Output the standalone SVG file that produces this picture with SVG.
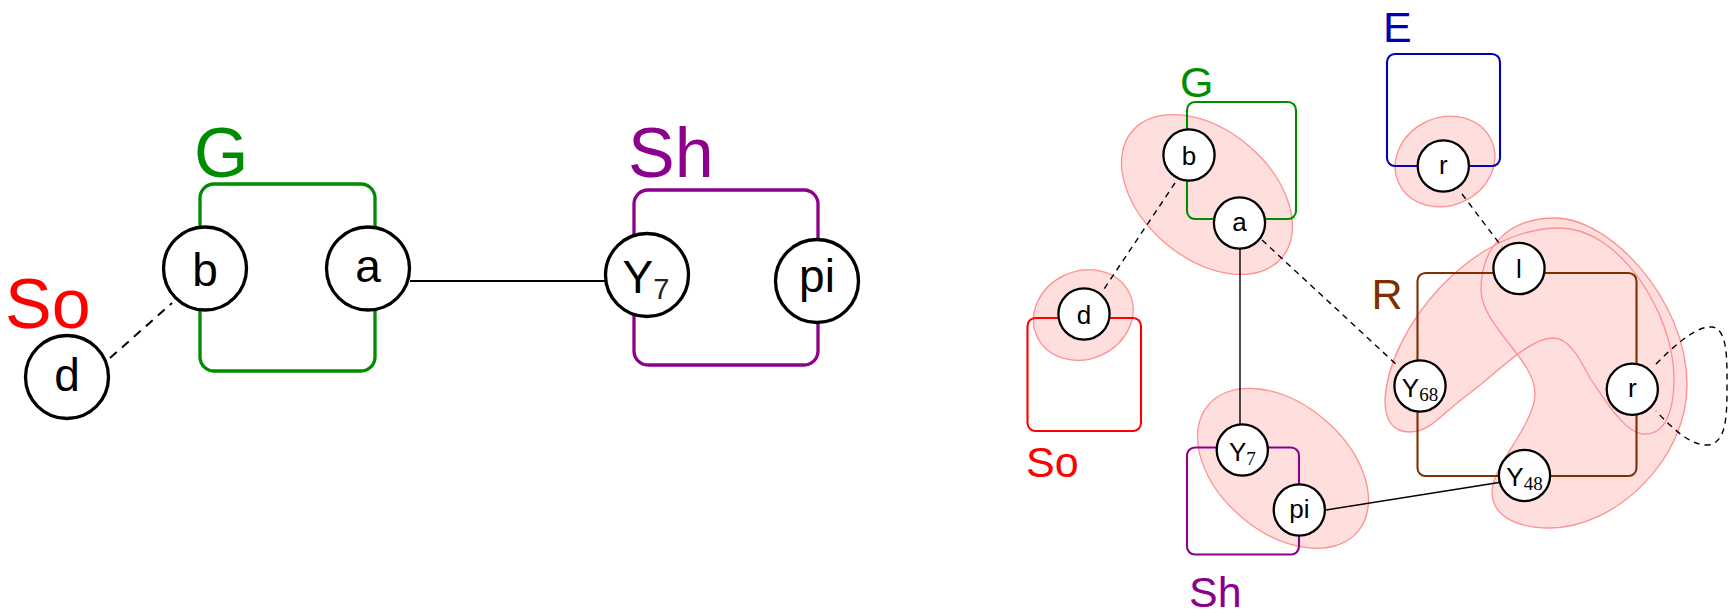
<svg xmlns="http://www.w3.org/2000/svg" width="1728" height="616" viewBox="0 0 1728 616">
  <style>
    text { font-family: "Liberation Sans", Arial, sans-serif; }
    .sub { font-family: "Liberation Serif", "Times New Roman", serif; }
    .node circle { fill: #ffffff; stroke: #000000; }
    .big circle { stroke-width: 3.3; }
    .small circle { stroke-width: 2.3; }
    .big text { font-size: 46px; text-anchor: middle; fill: #000; }
    .small text { font-size: 26px; text-anchor: middle; fill: #000; }
    .box { fill: none; }
    .box-big { stroke-width: 3.3; }
    .box-small { stroke-width: 2.1; }
    .title-big { font-size: 70px; }
    .title-small { font-size: 43px; }
    .blob-fill { fill: #ffdede; stroke: none; }
    .blob-line { fill: none; stroke: #ff9090; stroke-width: 1.3; }
    .edge { fill: none; stroke: #000; }
    .edge-big { stroke-width: 2; }
    .edge-small { stroke-width: 1.4; }
    .dash-big { stroke-dasharray: 9 7; }
    .dash-small { stroke-dasharray: 6 5; }
    .green { stroke: #008c00; fill: #008c00; }
    .purple { stroke: #8c008c; fill: #8c008c; }
    .red { stroke: #ff0000; fill: #ff0000; }
    .blue { stroke: #0000b4; fill: #0000b4; }
    .brown { stroke: #803000; fill: #803000; }
    rect.green, rect.purple, rect.red, rect.blue, rect.brown { fill: none; }
    text.green, text.purple, text.red, text.blue, text.brown { stroke: none; }
  </style>

  <defs>
    <!-- hyperedge hulls of the right-hand graph -->
    <ellipse id="hull-ba" cx="0" cy="0" rx="98" ry="64" transform="translate(1207,194.5) rotate(40.2)"/>
    <ellipse id="hull-y7pi" cx="0" cy="0" rx="98" ry="64" transform="translate(1283,468.3) rotate(40.2)"/>
    <ellipse id="hull-d" cx="0" cy="0" rx="51" ry="44" transform="translate(1083.3,315) rotate(-25)"/>
    <ellipse id="hull-e" cx="0" cy="0" rx="51" ry="44" transform="translate(1445,161.5) rotate(-25)"/>
    <path id="hull-y68-l-r" d="M1385,400 C1388,330 1470,228 1560,228 C1620,228 1674,315 1674,378 C1674,412 1665,434 1645,434 C1625,434 1605,400 1590,378 C1578,355 1568,338 1553,338 C1530,338 1500,370 1470,393 C1440,415 1430,432 1410,432 C1393,432 1385,420 1385,400 Z"/>
    <path id="hull-l-r-y48" d="M1481,290 C1481,245 1510,218 1555,218 C1610,218 1687,300 1687,385 C1687,460 1615,528 1550,528 C1515,528 1492,515 1492,492 C1492,465 1535,425 1535,393 C1535,360 1481,325 1481,290 Z"/>
  </defs>

  <rect width="1728" height="616" fill="#ffffff"/>

  <!-- ===== left graph ===== -->
  <g id="left-clusters">
    <g id="cluster-G-left">
      <rect class="box box-big green" x="200" y="184" width="175" height="187" rx="14"/>
      <text class="title-big green" x="194" y="177">G</text>
    </g>
    <g id="cluster-Sh-left">
      <rect class="box box-big purple" x="634" y="190" width="184" height="175" rx="14"/>
      <text class="title-big purple" x="628" y="177">Sh</text>
    </g>
    <g id="cluster-So-left">
      <text class="title-big red" x="5" y="328">So</text>
    </g>
  </g>

  <g id="left-edges">
    <line class="edge edge-big dash-big" x1="110" y1="358" x2="172" y2="303"/>
    <line class="edge edge-big" x1="410" y1="281" x2="606" y2="281"/>
  </g>

  <g id="left-nodes" class="node big">
    <g id="node-d-left">
      <circle cx="67" cy="377" r="41.5"/>
      <text x="67" y="391">d</text>
    </g>
    <g id="node-b-left">
      <circle cx="205" cy="268.5" r="41.5"/>
      <text x="205" y="286">b</text>
    </g>
    <g id="node-a-left">
      <circle cx="368" cy="268.5" r="41.5"/>
      <text x="368" y="281.5">a</text>
    </g>
    <g id="node-Y7-left">
      <circle cx="647" cy="275" r="41.5"/>
      <text x="646" y="292.5">Y<tspan font-size="29" dy="6" fill="#222">7</tspan></text>
    </g>
    <g id="node-pi-left">
      <circle cx="817" cy="281" r="41.5"/>
      <text x="817" y="292">pi</text>
    </g>
  </g>

  <!-- ===== right graph ===== -->
  <g id="right-hulls">
    <use href="#hull-ba" class="blob-fill"/>
    <use href="#hull-y7pi" class="blob-fill"/>
    <use href="#hull-d" class="blob-fill"/>
    <use href="#hull-e" class="blob-fill"/>
    <use href="#hull-y68-l-r" class="blob-fill"/>
    <use href="#hull-l-r-y48" class="blob-fill"/>
    <use href="#hull-ba" class="blob-line"/>
    <use href="#hull-y7pi" class="blob-line"/>
    <use href="#hull-d" class="blob-line"/>
    <use href="#hull-e" class="blob-line"/>
    <use href="#hull-y68-l-r" class="blob-line"/>
    <use href="#hull-l-r-y48" class="blob-line"/>
  </g>

  <g id="right-clusters">
    <g id="cluster-G-right">
      <rect class="box box-small green" x="1187" y="102" width="109" height="117" rx="8"/>
      <text class="title-small green" x="1180" y="97">G</text>
    </g>
    <g id="cluster-E-right">
      <rect class="box box-small blue" x="1387" y="54" width="113" height="112" rx="8"/>
      <text class="title-small blue" x="1383" y="42">E</text>
    </g>
    <g id="cluster-So-right">
      <rect class="box box-small red" x="1027.5" y="318" width="113.5" height="113" rx="8"/>
      <text class="title-small red" x="1026" y="477">So</text>
    </g>
    <g id="cluster-Sh-right">
      <rect class="box box-small purple" x="1187" y="447.5" width="112" height="107" rx="8"/>
      <text class="title-small purple" x="1189" y="607">Sh</text>
    </g>
    <g id="cluster-R-right">
      <rect class="box box-small brown" x="1417.5" y="273" width="219" height="203" rx="8"/>
      <text class="title-small brown" x="1371.5" y="309">R</text>
    </g>
  </g>

  <g id="right-edges">
    <line class="edge edge-small dash-small" x1="1175" y1="183" x2="1104" y2="289"/>
    <line class="edge edge-small" x1="1240" y1="249" x2="1240" y2="424"/>
    <line class="edge edge-small dash-small" x1="1262" y1="240" x2="1398" y2="366"/>
    <line class="edge edge-small dash-small" x1="1462" y1="194" x2="1502" y2="247"/>
    <line class="edge edge-small" x1="1326" y1="510" x2="1499" y2="482.5"/>
    <path class="edge edge-small dash-small" d="M1656,364 C1680,340 1698,326 1712,327 C1728,329 1727,360 1727,388 C1727,418 1726,445 1706,445 C1690,445 1672,428 1656,411"/>
  </g>

  <g id="right-nodes" class="node small">
    <g id="node-b-right">
      <circle cx="1189" cy="155" r="25.6"/>
      <text x="1189" y="164.5">b</text>
    </g>
    <g id="node-a-right">
      <circle cx="1239.5" cy="223" r="25.6"/>
      <text x="1239.5" y="230.5">a</text>
    </g>
    <g id="node-d-right">
      <circle cx="1084" cy="314" r="25.6"/>
      <text x="1084" y="323.5">d</text>
    </g>
    <g id="node-r-E">
      <circle cx="1443.3" cy="166" r="25.6"/>
      <text x="1443.3" y="173.5">r</text>
    </g>
    <g id="node-l">
      <circle cx="1519" cy="268.5" r="25.6"/>
      <text x="1519" y="278">l</text>
    </g>
    <g id="node-Y68">
      <circle cx="1420" cy="386" r="25.6"/>
      <text x="1420" y="396.5">Y<tspan class="sub" font-size="19" dy="4">68</tspan></text>
    </g>
    <g id="node-r-R">
      <circle cx="1632.3" cy="389.3" r="25.6"/>
      <text x="1632.3" y="397">r</text>
    </g>
    <g id="node-Y48">
      <circle cx="1524.5" cy="475.5" r="25.6"/>
      <text x="1524.5" y="486">Y<tspan class="sub" font-size="19" dy="4">48</tspan></text>
    </g>
    <g id="node-Y7-right">
      <circle cx="1242.3" cy="450" r="25.6"/>
      <text x="1242.3" y="461">Y<tspan class="sub" font-size="19" dy="4">7</tspan></text>
    </g>
    <g id="node-pi-right">
      <circle cx="1299.3" cy="510" r="25.6"/>
      <text x="1299.3" y="518">pi</text>
    </g>
  </g>
</svg>
